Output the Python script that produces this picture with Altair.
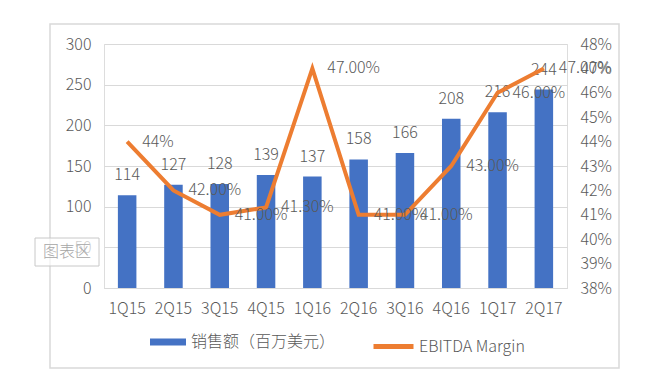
import altair as alt
import pandas as pd

quarters = ["1Q15", "2Q15", "3Q15", "4Q15", "1Q16", "2Q16", "3Q16", "4Q16", "1Q17", "2Q17"]
sales = [114, 127, 128, 139, 137, 158, 166, 208, 216, 244]
margin = [0.44, 0.42, 0.41, 0.413, 0.47, 0.41, 0.41, 0.43, 0.46, 0.47]
margin_labels = ["44%", "42.00%", "41.00%", "41.30%", "47.00%", "41.00%", "41.00%", "43.00%", "46.00%", "47.00%"]
left_ticks = [0, 50, 100, 150, 200, 250, 300]
right_ticks = [0.38, 0.39, 0.40, 0.41, 0.42, 0.43, 0.44, 0.45, 0.46, 0.47, 0.48]
sales_name = "销售额（百万美元）"
margin_name = "EBITDA Margin"

df = pd.DataFrame({
    "q": quarters,
    "sales": sales,
    "margin": margin,
    "mlabel": margin_labels,
    "sname": [sales_name] * len(quarters),
    "mname": [margin_name] * len(quarters),
})

FONT = "Noto Sans CJK SC"
FW = 300
GRAY = "#595959"
BLUE = "#4472C4"
ORANGE = "#ED7D31"

x = alt.X("q:N", sort=quarters, title=None,
          scale=alt.Scale(paddingInner=0.6, paddingOuter=0.3),
          axis=alt.Axis(labelAngle=0, labelFont=FONT, labelFontWeight=FW, labelFontSize=16,
                        labelColor=GRAY, labelPadding=12, domain=True, domainColor="#D9D9D9",
                        ticks=False))

y_left = alt.Y("sales:Q", title=None,
               scale=alt.Scale(domain=[0, 300], nice=False),
               axis=alt.Axis(values=left_ticks, labelFont=FONT, labelFontWeight=FW, labelFontSize=16,
                             labelColor=GRAY, labelPadding=13, domain=False, ticks=False, grid=True,
                             gridColor="#D9D9D9", gridWidth=1, labelOverlap=False))

y_right = alt.Y("margin:Q", title=None,
                scale=alt.Scale(domain=[0.38, 0.48], nice=False),
                axis=alt.Axis(orient="right", values=right_ticks, format=".0%", labelFont=FONT,
                              labelFontWeight=FW, labelFontSize=16, labelColor=GRAY, labelPadding=13,
                              domain=False, ticks=False, grid=False, labelOverlap=False,
                              labelBound=False, labelFlush=False))

base = alt.Chart(df)

bars = base.mark_bar(color=BLUE).encode(
    x=x,
    y=y_left,
    fill=alt.Fill("sname:N", title=None,
                  scale=alt.Scale(range=[BLUE]),
                  legend=alt.Legend(orient="none", legendX=46, legendY=280, padding=0,
                                    symbolType="M-1,-0.2L1,-0.2L1,0.2L-1,0.2Z", symbolSize=1296,
                                    symbolStrokeWidth=0, labelFont=FONT, labelFontWeight=FW,
                                    labelFontSize=16, labelColor=GRAY, labelOffset=5)),
)

bar_text = base.mark_text(font=FONT, fontWeight=FW, fontSize=16, color=GRAY, baseline="middle", dy=-20).encode(
    x=x, y=y_left, text=alt.Text("sales:Q")
)

line = base.mark_line(strokeWidth=4, interpolate="linear").encode(
    x=x,
    y=y_right,
    stroke=alt.Stroke("mname:N", title=None,
                      scale=alt.Scale(range=[ORANGE]),
                      legend=alt.Legend(orient="none", legendX=267, legendY=280, padding=0,
                                        symbolType="stroke", symbolSize=1600, symbolStrokeWidth=5,
                                        labelFont=FONT, labelFontWeight=FW, labelFontSize=16,
                                        labelColor=GRAY, labelOffset=3)),
)

line_text = base.mark_text(font=FONT, fontWeight=FW, fontSize=16, color=GRAY, align="left",
                           baseline="middle", dx=15).encode(
    x=x, y=y_right, text=alt.Text("mlabel:N")
)

one = alt.Data(values=[{"t": "图表区"}])
frame = alt.Chart(one).mark_rect(fill=None, stroke="#D9D9D9", strokeWidth=1.5).encode(
    x=alt.value(-54), x2=alt.value(515), y=alt.value(-20), y2=alt.value(324)
)
tip_box = alt.Chart(one).mark_rect(fill="white", fillOpacity=0.7, stroke="#C8C8C8", strokeWidth=1).encode(
    x=alt.value(-69), x2=alt.value(-5), y=alt.value(194), y2=alt.value(222)
)
tip_text = alt.Chart(one).mark_text(font=FONT, fontWeight=FW, fontSize=16, color="#A6A6A6",
                                    align="center", baseline="middle").encode(
    x=alt.value(-37), y=alt.value(208), text="t:N"
)

chart = alt.layer(
    frame,
    alt.layer(bars, bar_text),
    alt.layer(line, line_text),
    tip_box,
    tip_text,
).resolve_scale(y="independent", fill="independent", stroke="independent").resolve_legend(
    fill="independent", stroke="independent"
).properties(
    width=463, height=244,
    padding={"left": 96, "top": 36, "right": 85, "bottom": 85},
    autosize=alt.AutoSizeParams(type="none"),
).configure_view(stroke=None).configure(background="white")

chart.save("out.html", embed_options={"renderer": "svg", "actions": False})
